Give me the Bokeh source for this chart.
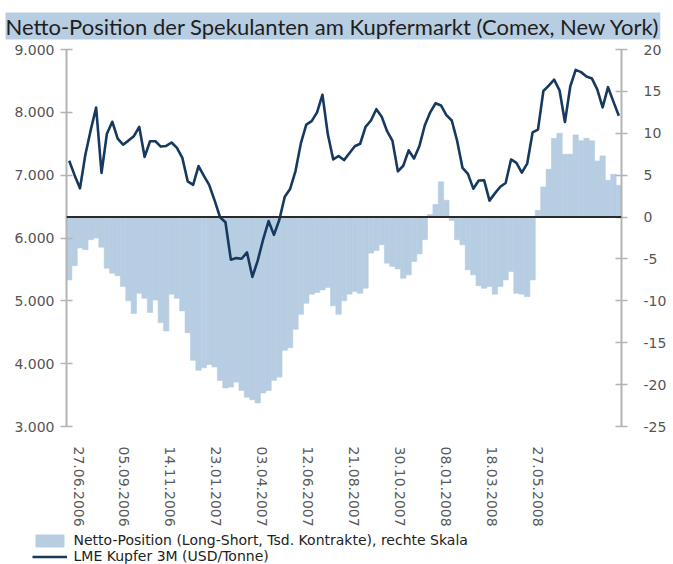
from bokeh.plotting import figure
from bokeh.layouts import column
from bokeh.models import (Range1d, LinearAxis, FixedTicker, Span, Legend,
                          LegendItem, ColumnDataSource)
from bokeh.embed import file_html
from bokeh.resources import INLINE

# ---------------- data ----------------
# Netto-Position (Long-Short, Tsd. Kontrakte), right scale
net_position = [
    -7.5, -5.8, -3.7, -3.9, -2.7, -2.5, -3.6, -6.1, -6.7, -7.0,
    -8.3, -10.0, -11.5, -9.1, -9.7, -11.4, -9.9, -12.6, -13.6, -9.2,
    -9.7, -11.2, -13.8, -17.1, -18.3, -18.0, -17.6, -17.9, -19.5, -20.4,
    -20.3, -19.7, -20.7, -21.5, -21.8, -22.2, -21.0, -20.7, -19.5, -19.1,
    -15.9, -15.6, -13.4, -11.6, -10.3, -9.2, -9.0, -8.7, -8.4,
    -10.6, -11.6, -10.0, -9.2, -8.9, -9.1, -8.5, -4.3, -4.0, -3.3,
    -5.5, -5.9, -6.2, -7.3, -6.9, -5.3, -4.4, -2.7, 0.3, 1.5,
    4.2, 2.0, -0.4, -2.7, -3.3, -6.3, -6.9, -8.2, -8.5, -8.3,
    -9.2, -8.3, -7.5, -6.5, -9.1, -9.2, -9.5, -7.5, 0.8, 3.6,
    5.7, 9.4, 10.0, 7.5, 7.5, 9.8, 9.1, 9.4, 9.1, 6.7,
    7.3, 4.4, 5.1, 3.8,
]
# LME Kupfer 3M (USD/Tonne), left scale
copper_price = [
    7230, 7000, 6790, 7325, 7720, 8075, 7035, 7660, 7850, 7580,
    7485, 7550, 7620, 7770, 7290, 7540, 7540, 7455, 7465, 7520,
    7435, 7275, 6900, 6845, 7145, 6990, 6840, 6595, 6330, 6250,
    5655, 5680, 5670, 5770, 5380, 5645, 5980, 6270, 6050, 6290,
    6655, 6780, 7065, 7510, 7805, 7860, 8000, 8280, 7650, 7250,
    7305, 7240, 7350, 7460, 7500, 7770, 7870, 8050, 7930, 7700,
    7545, 7060, 7150, 7395, 7265, 7465, 7795, 8000, 8145, 8110,
    7955, 7870, 7545, 7115, 7020, 6785, 6915, 6920, 6595, 6710,
    6815, 6875, 7250, 7195, 7040, 7185, 7680, 7725, 8340, 8425,
    8520, 8350, 7845, 8415, 8675, 8640, 8570, 8540, 8365, 8080,
    8400, 8170, 7945,
]
period_index = list(range(len(net_position)))

date_labels = ["27.06.2006", "05.09.2006", "14.11.2006", "23.01.2007",
               "03.04.2007", "12.06.2007", "21.08.2007", "30.10.2007",
               "08.01.2008", "18.03.2008", "27.05.2008"]
date_label_pos = [1.73, 10.25, 18.77, 27.28, 35.80, 44.32, 52.84,
                  61.36, 69.88, 78.40, 86.92]

left_ticks = [3000, 4000, 5000, 6000, 7000, 8000, 9000]
left_tick_labels = ["3.000", "4.000", "5.000", "6.000", "7.000", "8.000", "9.000"]
right_ticks = [-25, -20, -15, -10, -5, 0, 5, 10, 15, 20]
right_tick_labels = ["-25", "-20", "-15", "-10", "-5", "0", "5", "10", "15", "20"]

title_text = "Netto-Position der Spekulanten am Kupfermarkt (Comex, New York)"
legend_bars = "Netto-Position (Long-Short, Tsd. Kontrakte), rechte Skala"
legend_line = "LME Kupfer 3M (USD/Tonne)"

# ---------------- styling ----------------
BAR_COLOR = "#b7cde2"
LINE_COLOR = "#163a5f"
AXIS_COLOR = "#b4b4b4"
LABEL_COLOR = "#555555"
AXIS_FONT = "DejaVu Sans"
TEXT_FONT = "Lato"

source = ColumnDataSource(data=dict(x=period_index, net=net_position,
                                    price=copper_price))

p = figure(width=673, height=529, output_backend="svg", toolbar_location=None,
           x_range=Range1d(-0.5, len(net_position) - 0.5),
           y_range=Range1d(3000, 9000),
           min_border_left=66, min_border_right=52,
           min_border_top=49, min_border_bottom=96)
p.extra_y_ranges = {"right": Range1d(-25, 20)}
p.outline_line_color = None
p.xgrid.visible = False
p.ygrid.visible = False
p.background_fill_color = "white"
p.border_fill_color = "white"

# title band
p.title.text = title_text
p.title.text_font = TEXT_FONT
p.title.text_font_size = "22px"
p.title.text_font_style = "normal"
p.title.text_color = "#1e1e1e"
p.title.background_fill_color = BAR_COLOR
p.title.align = "left"
p.title.vertical_align = "top"
p.title.offset = -61
p.title.standoff = 16
p.title.padding = 0

bars = p.vbar(x="x", top="net", bottom=0, width=1.0, source=source,
              y_range_name="right", fill_color=BAR_COLOR,
              line_color=BAR_COLOR, line_width=0.6)
zero = Span(location=0, dimension="width", y_range_name="right",
            line_color="#2a2a2a", line_width=2)
p.add_layout(zero)
line = p.line(x="x", y="price", source=source, line_color=LINE_COLOR,
              line_width=2.6, line_join="round")

# x axis
xa = p.xaxis[0]
xa.ticker = FixedTicker(ticks=date_label_pos)
xa.major_label_overrides = {pos: lab for pos, lab in zip(date_label_pos, date_labels)}
xa.major_label_orientation = "vertical"
xa.axis_line_color = None
xa.major_tick_line_color = None
xa.minor_tick_line_color = None
xa.major_label_standoff = 14
xa.major_label_text_font = AXIS_FONT
xa.major_label_text_font_size = "14px"
xa.major_label_text_color = "#5a5a5a"

# left axis
ya = p.yaxis[0]
ya.ticker = FixedTicker(ticks=left_ticks)
ya.major_label_overrides = {t: lab for t, lab in zip(left_ticks, left_tick_labels)}
ya.axis_line_color = AXIS_COLOR
ya.axis_line_width = 2
ya.major_tick_line_color = AXIS_COLOR
ya.major_tick_line_width = 1.5
ya.major_tick_out = 6
ya.major_tick_in = 6
ya.minor_tick_line_color = None
ya.major_label_standoff = 6
ya.major_label_text_font = AXIS_FONT
ya.major_label_text_font_size = "14px"
ya.major_label_text_color = LABEL_COLOR

# right axis
ra = LinearAxis(y_range_name="right", ticker=FixedTicker(ticks=right_ticks))
ra.major_label_overrides = {t: lab for t, lab in zip(right_ticks, right_tick_labels)}
ra.axis_line_color = AXIS_COLOR
ra.axis_line_width = 2
ra.major_tick_line_color = AXIS_COLOR
ra.major_tick_line_width = 1.5
ra.major_tick_out = 6
ra.major_tick_in = 6
ra.minor_tick_line_color = None
ra.major_label_standoff = 16
ra.major_label_text_font = AXIS_FONT
ra.major_label_text_font_size = "14px"
ra.major_label_text_color = LABEL_COLOR
p.add_layout(ra, "right")

# ---------------- legend strip below the chart ----------------
# (the key glyphs reuse the same data; the strip's ranges keep them out of view)
p2 = figure(width=673, height=35, output_backend="svg", toolbar_location=None,
            x_range=Range1d(1000, 1673), y_range=Range1d(100000, 100035),
            min_border=0, x_axis_location=None, y_axis_location=None)
p2.outline_line_color = None
p2.xgrid.visible = False
p2.ygrid.visible = False
p2.background_fill_color = "white"
p2.border_fill_color = "white"
for fig in (p, p2):
    if "frame_align" in fig.properties():
        fig.frame_align = False
key_bars = p2.vbar(x="x", top="net", width=1.0, source=source,
                   fill_color=BAR_COLOR, line_color=BAR_COLOR)
key_line = p2.line(x="x", y="price", source=source, line_color=LINE_COLOR,
                   line_width=2.6)

legend = Legend(items=[LegendItem(label=legend_bars, renderers=[key_bars]),
                       LegendItem(label=legend_line, renderers=[key_line])],
                location=(31.5, 0), orientation="vertical",
                glyph_width=35, glyph_height=15, label_height=12,
                spacing=0, padding=0, margin=0, label_standoff=7,
                border_line_color=None, background_fill_alpha=0,
                label_text_font=AXIS_FONT, label_text_font_size="14px",
                label_text_color="#222222")
p2.add_layout(legend)

layout = column(p, p2, spacing=0)
open("out.html", "w").write(file_html(layout, INLINE))
